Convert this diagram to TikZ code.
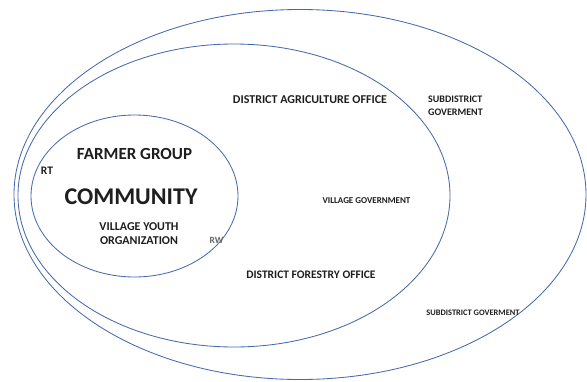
\documentclass[tikz,border=0pt]{standalone}
\usepackage{fontspec}
\setmainfont{Carlito}
\usepackage{tikz}
\usetikzlibrary{positioning}
\definecolor{ringblue}{RGB}{72,106,172}
\definecolor{labelgray}{RGB}{30,30,30}
\tikzset{
  ring/.style={color=ringblue, line width=0.85},
  lbl/.style={text=labelgray, inner sep=0, align=center, font=\bfseries}
}

\begin{document}
\begin{tikzpicture}[x=1pt,y=1pt,yscale=-1,xscale=1]
\useasboundingbox (0,0) rectangle (587,381);

%Shape: Ellipse [id:outer]
\draw [ring] (300,194.5) ellipse (286 and 185);
%Shape: Ellipse [id:middle]
\draw [ring] (234,195.5) ellipse (216 and 151.5);
%Shape: Ellipse [id:inner]
\draw [ring] (134.5,196) ellipse (103.5 and 81);

%Text nodes
\node [lbl, font=\bfseries\fontsize{17}{19}\selectfont] (farmer) at (134.5,154) {FARMER GROUP};
\node [lbl, font=\bfseries\fontsize{24}{27}\selectfont] (community) at (131,197) {COMMUNITY};
\node [lbl, font=\bfseries\fontsize{12}{14}\selectfont] (youth) at (139,234) {VILLAGE YOUTH\\ORGANIZATION};
\node [lbl, font=\bfseries\fontsize{11.5}{13}\selectfont] (rt) at (47,171) {RT};
\node [lbl, font=\bfseries\fontsize{9.5}{11}\selectfont, text=black!60] (rw) at (216.5,240) {RW};
\node [lbl, font=\bfseries\fontsize{12}{14}\selectfont] (agri) at (310,100) {DISTRICT AGRICULTURE OFFICE};
\node [lbl, font=\bfseries\fontsize{10}{13}\selectfont, align=left] (subtop) at (455.5,105.5) {SUBDISTRICT\\GOVERMENT};
\node [lbl, font=\bfseries\fontsize{9}{10}\selectfont] (village) at (366.5,201) {VILLAGE GOVERNMENT};
\node [lbl, font=\bfseries\fontsize{11.5}{13}\selectfont] (forest) at (311,275) {DISTRICT FORESTRY OFFICE};
\node [lbl, font=\bfseries\fontsize{8.4}{10}\selectfont] (subbot) at (473,313) {SUBDISTRICT GOVERMENT};

\end{tikzpicture}
\end{document}
